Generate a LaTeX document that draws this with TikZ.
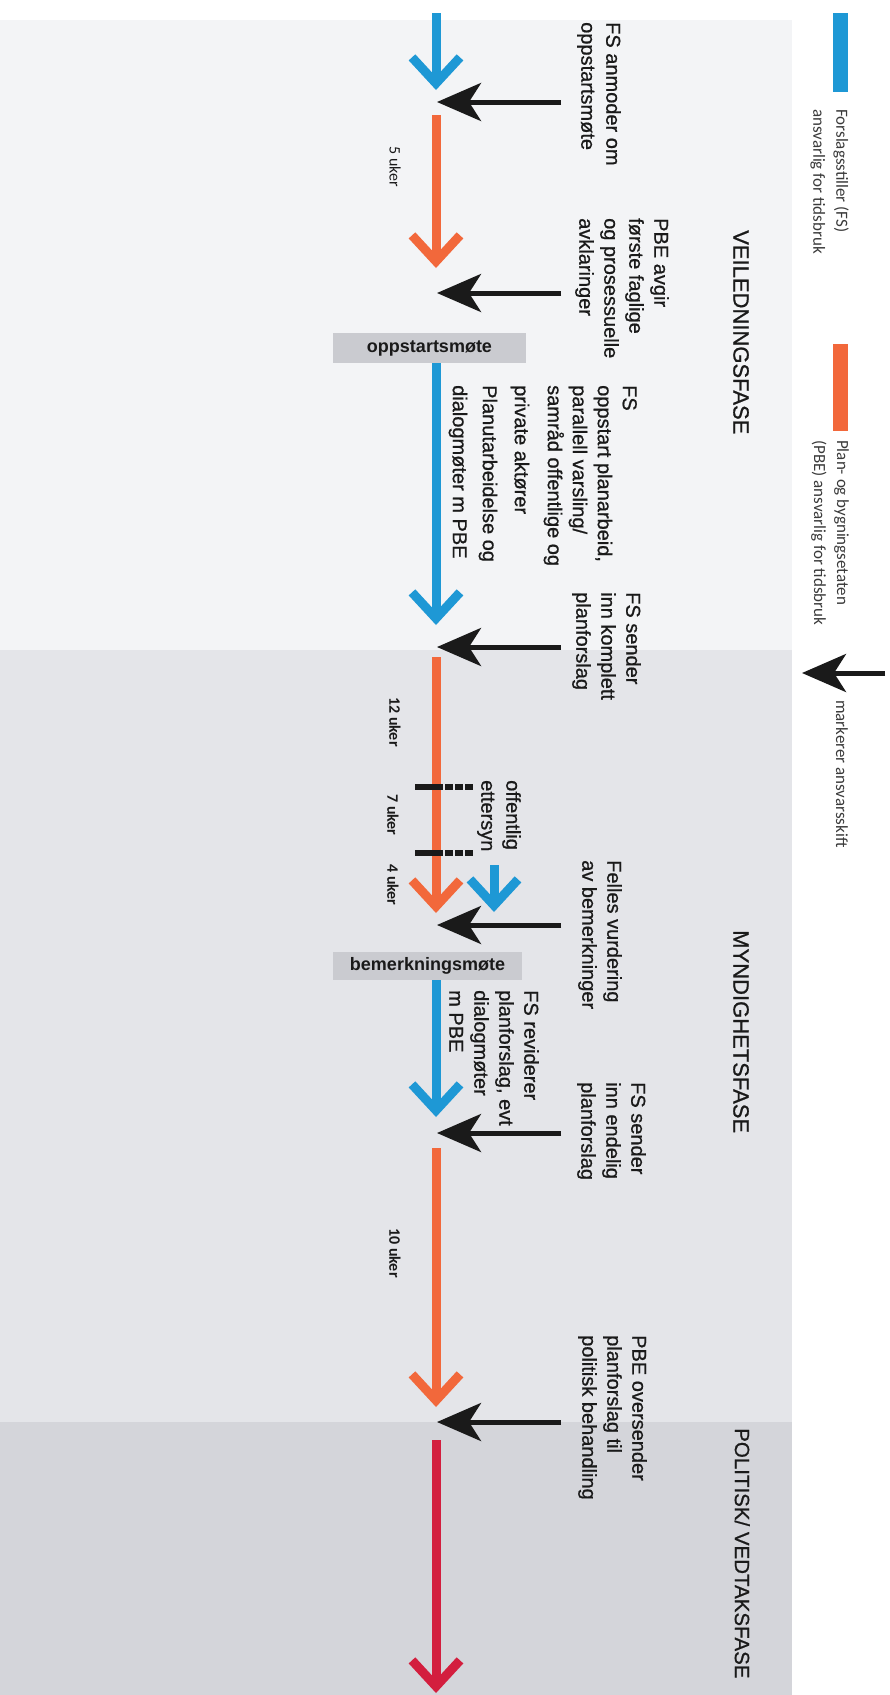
\documentclass[tikz,border=0pt]{standalone}
\usepackage{fontspec}
\setmainfont{Liberation Sans}
\newfontfamily\notefamily[FakeBold=0.8]{Liberation Sans}
\newfontfamily\legendfont{Carlito}
\usetikzlibrary{arrows.meta}
\definecolor{ink}{HTML}{1A1A1A}
\definecolor{fsblue}{HTML}{1E98D5}
\definecolor{pbeorange}{HTML}{F2683B}
\definecolor{polred}{HTML}{D31E3E}
\definecolor{guidefill}{HTML}{F3F4F6}
\definecolor{authfill}{HTML}{E4E5E9}
\definecolor{polfill}{HTML}{D4D5DA}
\definecolor{meetfill}{HTML}{CACBD0}
\definecolor{legendink}{HTML}{3A3A3A}
\newcommand{\notefont}{\notefamily\fontsize{20}{25}\selectfont}
\tikzset{
 every node/.append style={text=ink,inner sep=0pt},
 flow/.style={line width=9pt,-{Straight Barb[length=26pt,width=48pt]}},
 fsflow/.style={flow,draw=fsblue},
 pbeflow/.style={flow,draw=pbeorange},
 polflow/.style={flow,draw=polred},
 handover/.style={draw=ink,line width=5pt,-{Stealth[length=44pt,width=38pt,inset=12pt]}},
 note/.style={rotate=-90,anchor=north west,align=left,font=\notefont},
 weeks/.style={rotate=-90,font=\legendfont\bfseries\fontsize{16}{18}\selectfont},
 phase/.style={rotate=-90,anchor=north west,font=\notefamily\fontsize{22}{24}\selectfont},
 meeting/.style={fill=meetfill,minimum width=193pt,minimum height=30pt,font=\bfseries\fontsize{18}{20}\selectfont},
 gate/.style={draw=ink,line width=6pt,dash pattern=on 28pt off 2pt on 8pt off 2pt on 8pt off 2pt on 8pt},
 keybar/.style={minimum width=15pt,minimum height=79pt},
 legendtext/.style={rotate=-90,anchor=north west,align=left,text=legendink,font=\legendfont\fontsize{17}{23}\selectfont},
}

\begin{document}
\begin{tikzpicture}[x=1pt,y=-1pt]
\useasboundingbox (0,0) rectangle (890,1695);

% phase bands
\fill[guidefill] (0,20) rectangle (792,650);
\fill[authfill] (0,650) rectangle (792,1422);
\fill[polfill] (0,1422) rectangle (792,1695);

\node[phase] (guidance) at (749,230) {VEILEDNINGSFASE};
\node[phase] (authority) at (749,930) {MYNDIGHETSFASE};
\node[phase,font=\notefamily\fontsize{20.5}{24}\selectfont] (political) at (750,1428) {POLITISK/ VEDTAKSFASE};

% legend
\node[keybar,fill=fsblue] (fskey) at (840.5,52.5) {};
\node[keybar,fill=pbeorange,minimum height=87pt] (pbekey) at (840.5,387.5) {};
\node[legendtext] (fskeytext) at (849,109) {Forslagsstiller (FS)\\ansvarlig for tidsbruk};
\node[legendtext] (pbekeytext) at (849,440) {Plan- og bygningsetaten\\(PBE) ansvarlig for tidsbruk};
\node[legendtext] (handkeytext) at (848,700) {markerer ansvarsskift};
\coordinate (handkeytail) at (885,673);
\coordinate (handkeytip) at (802,673);
\draw[handover] (handkeytail) -- (handkeytip);

% meetings
\node[meeting] (kickoff) at (429.5,348) {oppstartsmøte};
\node[meeting,minimum width=189pt,minimum height=28pt] (review) at (427.5,966) {bemerkningsmøte};

% spine points
\coordinate (fs1) at (436,13);   \coordinate (fs1tip) at (436,90);
\coordinate (pbe1) at (436,115); \coordinate (pbe1tip) at (436,268);
\coordinate (fs2tip) at (436,625);
\coordinate (pbe2) at (436,657); \coordinate (pbe2tip) at (436,913);
\coordinate (fs3tip) at (436,1117);
\coordinate (pbe3) at (436,1148); \coordinate (pbe3tip) at (436,1407);
\coordinate (pol) at (436,1440); \coordinate (poltip) at (436,1693);
\coordinate (hear) at (494,865); \coordinate (heartip) at (494,912);

\draw[fsflow] (fs1) -- (fs1tip);
\draw[pbeflow] (pbe1) -- (pbe1tip);
\draw[fsflow] (kickoff.south -| fs1) -- (fs2tip);
\draw[pbeflow] (pbe2) -- (pbe2tip);
\draw[fsflow] (hear) -- (heartip);
\draw[fsflow] (review.south -| fs1) -- (fs3tip);
\draw[pbeflow] (pbe3) -- (pbe3tip);
\draw[polflow] (pol) -- (poltip);

% public inspection window
\coordinate (gate1) at (415,787); \coordinate (gate1end) at (478,787);
\coordinate (gate2) at (415,853); \coordinate (gate2end) at (478,853);
\draw[gate] (gate1) -- (gate1end);
\draw[gate] (gate2) -- (gate2end);

\node[weeks,font=\legendfont\fontsize{16}{18}\selectfont] (w5) at (395,167) {5 uker};
\node[weeks] (w12) at (395,722) {12 uker};
\node[weeks] (w7) at (393,815) {7 uker};
\node[weeks] (w4) at (393,885) {4 uker};
\node[weeks] (w10) at (395,1253) {10 uker};

% handovers
\foreach \name/\y in {h1/102,h2/293,h3/647,h4/925,h5/1133,h6/1422}{
  \coordinate (\name) at (561,\y);
  \coordinate (\name tip) at (437,\y);
  \draw[handover] (\name) -- (\name tip);
}

\node[note] (request) at (621,22) {FS anmoder om\\oppstartsmøte};
\node[note] (advice) at (669,218) {PBE avgir\\første faglige\\og prosessuelle\\avklaringer};
\node[note] (drafting) at (637,385) {FS\\oppstart planarbeid,\\parallell varsling/\\samråd offentlige og\\[8pt]private aktører\\[7pt]Planutarbeidelse og\\[5pt]dialogmøter m PBE};
\node[note] (submit) at (641,592) {FS sender\\inn komplett\\planforslag};
\node[note] (hearing) at (521,780) {offentlig\\ettersyn};
\node[note] (assess) at (622,860) {Felles vurdering\\av bemerkninger};
\node[note] (revise) at (539,990) {FS reviderer\\planforslag, evt\\dialogmøter\\m PBE};
\node[note] (final) at (646,1082) {FS sender\\inn endelig\\planforslag};
\node[note] (forward) at (647,1335) {PBE oversender\\planforslag til\\politisk behandling};

\end{tikzpicture}
\end{document}
